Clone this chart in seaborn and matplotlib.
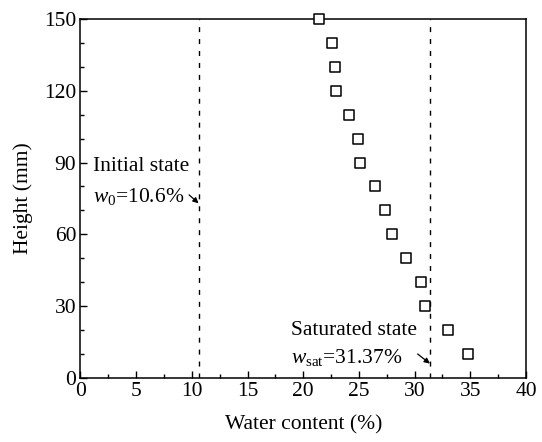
import matplotlib
matplotlib.use("Agg")
import matplotlib.pyplot as plt
import seaborn as sns
import pandas as pd
from matplotlib.ticker import MultipleLocator

# Water content profile along the specimen height
height_mm = [150, 140, 130, 120, 110, 100, 90, 80, 70, 60, 50, 40, 30, 20, 10]
water_content = [21.4, 22.6, 22.85, 22.9, 24.1, 24.95, 25.1, 26.4, 27.3, 28.0,
                 29.2, 30.6, 30.9, 33.0, 34.8]
w_initial = 10.6
w_saturated = 31.37

df = pd.DataFrame({"w": water_content, "h": height_mm})

sns.set_theme(style="ticks")
plt.rcParams["font.family"] = ["Liberation Serif", "DejaVu Serif"]
plt.rcParams["mathtext.fontset"] = "custom"
plt.rcParams["mathtext.rm"] = "Liberation Serif"
plt.rcParams["mathtext.it"] = "Liberation Serif:italic"
plt.rcParams["xtick.direction"] = "in"
plt.rcParams["ytick.direction"] = "in"
plt.rcParams["text.color"] = "black"
plt.rcParams["axes.labelcolor"] = "black"

FS = 15.5

fig = plt.figure(figsize=(5.42, 4.42), dpi=100)
ax = fig.add_axes([0.1485, 0.145, 0.822, 0.812])

sns.scatterplot(data=df, x="w", y="h", ax=ax, marker="s", s=48,
                facecolor="white", edgecolor="black", linewidth=1.1,
                zorder=5, clip_on=False)

for xv in (w_initial, w_saturated):
    ax.axvline(xv, color="black", linewidth=1.0, dashes=(3.6, 5.0), zorder=2)

ax.set_xlim(0, 40)
ax.set_ylim(0, 150)
ax.xaxis.set_major_locator(MultipleLocator(5))
ax.xaxis.set_minor_locator(MultipleLocator(2.5))
ax.yaxis.set_major_locator(MultipleLocator(30))
ax.yaxis.set_minor_locator(MultipleLocator(10))
ax.tick_params(which="major", length=5, width=1, labelsize=FS, color="black",
               labelcolor="black", pad=3)
ax.tick_params(which="minor", length=3, width=1, color="black")
ax.tick_params(top=False, right=False, which="both")
for sp in ax.spines.values():
    sp.set_color("black")
    sp.set_linewidth(1.1)

ax.set_xlabel("Water content (%)", fontsize=FS, labelpad=10)
ax.set_ylabel("Height (mm)", fontsize=FS, labelpad=8)

# Annotations for initial and saturated states
ax.text(1.1, 88.3, "Initial state", fontsize=FS, va="center", ha="left")
ax.text(1.1, 75.8, r"$w_{0}$=10.6%", fontsize=FS, va="center", ha="left")
ax.annotate("", xy=(w_initial, 73), xytext=(w_initial - 0.85, 76.5),
            arrowprops=dict(arrowstyle="-|>", color="black", lw=0.9,
                            mutation_scale=8, shrinkA=0, shrinkB=0))

ax.text(18.9, 19.7, "Saturated state", fontsize=FS, va="center", ha="left")
ax.text(18.9, 8.4, r"$w_{\mathrm{sat}}$=31.37%", fontsize=FS, va="center", ha="left")
ax.annotate("", xy=(w_saturated, 6), xytext=(w_saturated - 1.1, 10),
            arrowprops=dict(arrowstyle="-|>", color="black", lw=0.9,
                            mutation_scale=8, shrinkA=0, shrinkB=0))

fig.savefig("out.png", dpi=100, facecolor="white")
